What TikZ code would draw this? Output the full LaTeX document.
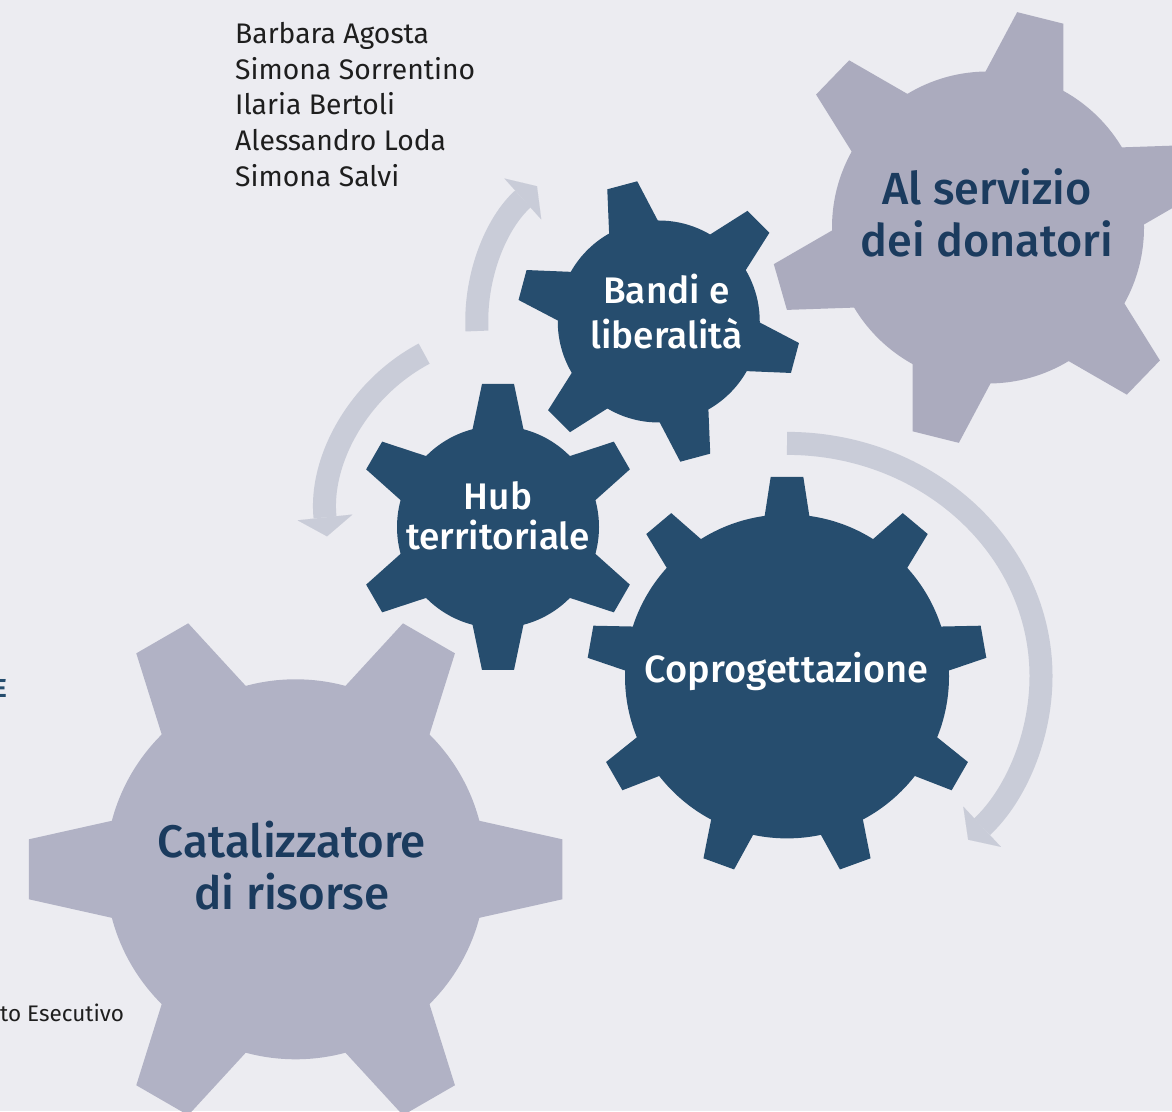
\documentclass[tikz,border=0pt]{standalone}
\usepackage{fontspec}
\setmainfont{Fira Sans}
\newfontfamily\medfont{Fira Sans Medium}
\usepackage{tikz}
\usetikzlibrary{arrows.meta}

\definecolor{paper}{HTML}{ECECF1}
\definecolor{cogdark}{HTML}{264D6E}
\definecolor{coglight}{HTML}{ABABBE}
\definecolor{coglighter}{HTML}{B1B2C5}
\definecolor{flowgray}{HTML}{C9CCD8}
\definecolor{navy}{HTML}{1B3B5E}
\definecolor{inkgray}{HTML}{1E1E1E}

% gear: centre, teeth, first tooth angle, body radius, tip radius,
% tip half width, half width at 0.8 body radius, colour
\newcommand{\cog}[8]{%
  \fill[#8] (#1) circle[radius=#4];
  \foreach \tooth in {1,...,#2}
    \fill[#8, shift={(#1)}, rotate={#3+(\tooth-1)*360/#2}]
      ({0.8*#4},{-#7}) -- (#5,{-#6}) -- (#5,#6) -- ({0.8*#4},#7) -- cycle;
}

\begin{document}
\begin{tikzpicture}[x=1pt, y=1pt, >={Triangle[length=19pt, width=55pt, line width=0.01pt]},
    flow/.style={->, line width=23pt, flowgray},
    cogtext/.style={align=center, inner sep=0pt, anchor=base}]
    % Canvas
    \fill[paper] (0,0) rectangle (1172,1111);
    \useasboundingbox (0,0) rectangle (1172,1111);

    % Gear centres
    \coordinate (servizio) at (988,883.5);
    \coordinate (bandi) at (658.75,789.5);
    \coordinate (hub) at (498,584);
    \coordinate (hubturn) at (511,594);
    \coordinate (copro) at (787,434.6);
    \coordinate (catal) at (295.6,241.7);

    % Turning arrows
    \draw[flow] ([shift={(183:182)}]bandi) arc[start angle=183, end angle=132, radius=182];
    \draw[flow] ([shift={(118:185)}]hubturn) arc[start angle=118, end angle=186, radius=185];
    \draw[flow] ([shift={(0,233)}]copro) arc[start angle=90, end angle=-44.5, x radius=254, y radius=233];

    % Gears
    \cog{servizio}{6}{16}{156}{216}{23.8}{46.6}{coglight}
    \cog{catal}{6}{0}{190}{266.7}{30}{55.6}{coglighter}
    \cog{bandi}{6}{-15}{101}{141}{15.5}{29}{cogdark}
    \cog{hub}{6}{30}{101}{143}{16}{29}{cogdark}
    \cog{copro}{9}{10}{162}{199.5}{16.3}{27.1}{cogdark}

    % Gear labels (base = last line)
    \node[cogtext, navy, font=\medfont\fontsize{45}{51.7}\selectfont] (servizio-label) at (987,854.3) {Al servizio\\dei donatori};
    \node[cogtext, white, font=\medfont\fontsize{37}{45}\selectfont] (bandi-label) at (666.5,762.7) {Bandi e\\liberalità};
    \node[cogtext, white, font=\medfont\fontsize{37}{40}\selectfont] (hub-label) at (498,561) {Hub\\territoriale};
    \node[cogtext, white, font=\medfont\fontsize{38}{45}\selectfont] (copro-label) at (786.7,428.3) {Coprogettazione};
    \node[cogtext, navy, font=\medfont\fontsize{45.7}{52}\selectfont] (catal-label) at (292,201) {Catalizzatore\\di risorse};

    % Names and cut-off texts
    \node[anchor=base west, align=left, inner sep=0pt, inkgray, font=\fontsize{28.3}{35.85}\selectfont] (names) at (235,924.3)
      {Barbara Agosta\\Simona Sorrentino\\Ilaria Bertoli\\Alessandro Loda\\Simona Salvi};
    \node[anchor=base east, inner sep=0pt, cogdark, font=\bfseries\fontsize{26}{30}\selectfont] (cut-heading) at (7,413) {E};
    \node[anchor=base west, inner sep=0pt, inkgray, font=\fontsize{22.5}{26}\selectfont] (cut-note) at (0,89.3) {to Esecutivo};
\end{tikzpicture}
\end{document}
